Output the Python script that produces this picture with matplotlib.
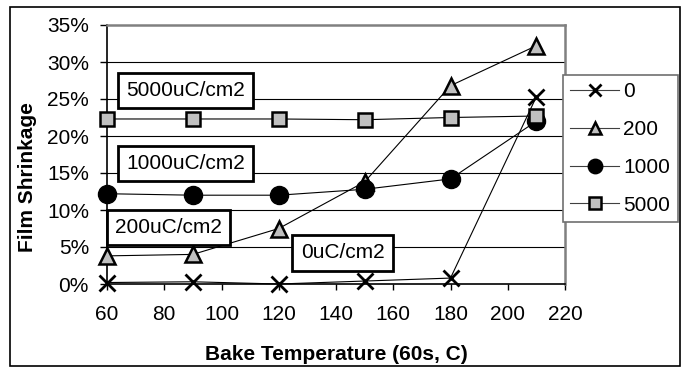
import matplotlib
matplotlib.use("Agg")
import matplotlib.pyplot as plt
from matplotlib.patches import Rectangle
from matplotlib.ticker import FuncFormatter, MultipleLocator

plt.rcParams['font.family'] = ['Liberation Sans', 'DejaVu Sans']

temps = [60, 90, 120, 150, 180, 210]
s0 = [0.2, 0.3, 0.0, 0.4, 0.8, 25.3]
s200 = [3.8, 4.0, 7.5, 13.8, 26.8, 32.2]
s1000 = [12.2, 12.0, 12.0, 12.8, 14.2, 22.0]
s5000 = [22.3, 22.3, 22.3, 22.2, 22.5, 22.7]
labels = ['0', '200', '1000', '5000']
annotation_texts = ['5000uC/cm2', '1000uC/cm2', '200uC/cm2', '0uC/cm2']
annotation_x = [87.4, 87.4, 81.5, 142.3]
annotation_y = [26.15, 16.28, 7.64, 4.19]

W, H = 685, 368
fig = plt.figure(figsize=(W/100, H/100), dpi=100)
fig.patches.append(Rectangle((10/W, 2/H), 670/W, 359/H, transform=fig.transFigure,
                             fill=False, edgecolor='black', linewidth=1.2))

ax = fig.add_axes([107/W, 1-284/H, 458/W, 259/H])
ax.set_xlim(60, 220)
ax.set_ylim(0, 35)
ax.yaxis.set_major_locator(MultipleLocator(5))
ax.xaxis.set_major_locator(MultipleLocator(20))
ax.yaxis.set_major_formatter(FuncFormatter(lambda v, p: f"{v:.0f}%"))
for y in range(5, 35, 5):
    ax.axhline(y, color='black', linewidth=0.8, zorder=1)
ax.spines['top'].set_color('#808080')
ax.spines['right'].set_color('#808080')
ax.spines['top'].set_linewidth(1.8)
ax.spines['right'].set_linewidth(1.8)
ax.spines['left'].set_linewidth(1.2)
ax.spines['bottom'].set_linewidth(1.2)
ax.tick_params(direction='out', labelsize=15)
ax.tick_params(axis='y', length=5, width=1, pad=8)
ax.tick_params(axis='x', length=4, width=1, pad=11)

gray = '#c0c0c0'
ax.plot(temps, s0, color='black', lw=0.8, marker='x', ms=11, mew=2.0, mec='black', label=labels[0], zorder=3, clip_on=False)
ax.plot(temps, s200, color='black', lw=0.8, marker='^', ms=11, mew=1.8, mfc=gray, mec='black', label=labels[1], zorder=3, clip_on=False)
ax.plot(temps, s1000, color='black', lw=0.8, marker='o', ms=13, mew=1, mfc='black', mec='black', label=labels[2], zorder=3, clip_on=False)
ax.plot(temps, s5000, color='black', lw=0.8, marker='s', ms=10.5, mew=1.8, mfc=gray, mec='black', label=labels[3], zorder=4, clip_on=False)

for txt, x, y in zip(annotation_texts, annotation_x, annotation_y):
    ax.text(x, y, txt, fontsize=15, va='center', ha='center', zorder=5,
            bbox=dict(boxstyle='square,pad=0.4', facecolor='white', edgecolor='black', linewidth=2))

fig.text(28/W, 1-177/H, 'Film Shrinkage', rotation=90, fontsize=15, fontweight='bold',
         ha='center', va='center')
fig.text(336/W, 1-355/H, 'Bake Temperature (60s, C)', fontsize=15, fontweight='bold',
         ha='center', va='center')

leg = ax.legend(loc='upper left', bbox_to_anchor=(563/W, 1-75/H), bbox_transform=fig.transFigure,
                frameon=True, fancybox=False, fontsize=15, handlelength=2.35, handletextpad=0.2,
                labelspacing=0.9, borderpad=0.35, borderaxespad=0, markerscale=0.8)
leg.get_frame().set_edgecolor('#707070')
leg.get_frame().set_linewidth(1.2)
leg.get_frame().set_facecolor('white')
leg.get_frame().set_alpha(1)
for h in leg.get_lines():
    h.set_color('#404040')

fig.savefig('out.png', dpi=100)
